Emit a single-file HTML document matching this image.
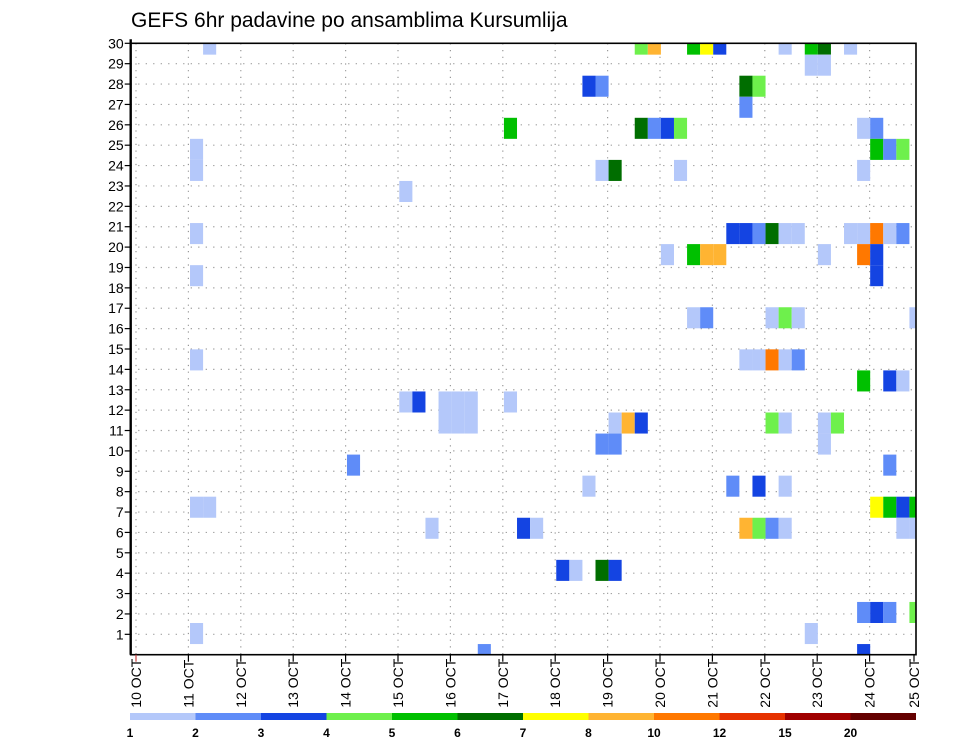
<!DOCTYPE html>
<html><head><meta charset="utf-8"><style>
body{margin:0;background:#fff;}
svg{display:block;font-family:"Liberation Sans",sans-serif;}
</style></head><body>
<svg id="chart" width="960" height="742" viewBox="0 0 960 742">
<text x="131" y="27" font-size="21" fill="#000">GEFS 6hr padavine po ansamblima Kursumlija</text>
<defs><clipPath id="pc"><rect x="130.7" y="43.3" width="785.3" height="611.4"/></clipPath></defs>
<g id="grid"></g>
<g id="cells" clip-path="url(#pc)"></g>
<g id="axes"></g>
<g id="cbar"></g>
</svg>
<script>
// cell data: row index from top (0 = member row 30), 6-hour step from 10 OCT 00Z, precip level
const cellRow = [0,0,0,0,0,0,0,0,0,0, 1,1, 2,2,2,2, 3, 4,4,4,4,4,4,4, 5,5,5,5, 6,6,6,6,6, 7,
 9,9,9,9,9,9,9,9,9,9,9,9, 10,10,10,10,10,10,10, 11,11, 13,13,13,13,13,13, 15,15,15,15,15,15,
 16,16,16, 17,17,17,17,17,17, 18,18,18,18,18,18,18,18,18,18, 19,19,19, 20,20, 21,21,21,21,
 22,22,22,22,22,22, 23,23,23,23,23,23,23,23,23, 25,25,25,25, 27,27,27,27, 28,28, 29,29];
const cellStep = [5,38,39,42,43,44,49,51,52,54, 51,52, 34,35,46,47, 46, 28,38,39,40,41,55,56, 4,56,57,58, 4,35,36,41,55, 20,
 4,45,46,47,48,49,50,54,55,56,57,58, 40,42,43,44,52,55,56, 4,56, 42,43,48,49,50,59, 4,46,47,48,49,50,
 55,57,58, 20,21,23,24,25,28, 23,24,25,36,37,38,48,49,52,53, 35,36,52, 16,57, 34,45,47,49,
 4,5,56,57,58,59, 22,29,30,46,47,48,49,58,59, 32,33,35,36, 55,56,57,59, 4,51, 26,55];
const cellLevel = [1,4,8,5,7,3,1,5,6,1, 1,1, 3,2,6,4, 2, 5,6,2,3,4,1,2, 1,5,2,4, 1,1,6,1,1, 1,
 1,3,3,2,6,1,1,1,1,10,1,2, 1,5,8,8,1,10,3, 1,3, 1,2,1,4,1,1, 1,1,1,10,1,2,
 5,3,1, 1,3,1,1,1,1, 1,1,1,1,8,3,4,1,1,4, 2,2,1, 2,2, 1,2,3,1,
 1,1,7,5,3,5, 1,3,1,8,4,2,1,1,1, 3,1,6,3, 2,3,2,4, 1,1, 2,3];
const levelValues = [1,2,3,4,5,6,7,8,10,12,15,20];
const levelColors = ['#b4c8fa','#5f8cf8','#1444e2','#6ef04c','#00c000','#006e00','#ffff00','#ffb432','#ff7800','#e63200','#a00000','#640000'];
const yLabels = [1,2,3,4,5,6,7,8,9,10,11,12,13,14,15,16,17,18,19,20,21,22,23,24,25,26,27,28,29,30];
const dayLabels = [10,11,12,13,14,15,16,17,18,19,20,21,22,23,24,25];

const NS='http://www.w3.org/2000/svg';
function mk(tag,attrs,parent){const e=document.createElementNS(NS,tag);for(const k in attrs)e.setAttribute(k,attrs[k]);parent.appendChild(e);return e;}
const L=130.7,R=916,T=43.3,B=654.7;
const stepX = j => 137.7 + j*13.08;
const rowY = i => 33.6 + i*21.05;
const labelY = v => T + (30 - v)*20.38;
const dayX = d => d===15 ? 914 : 136 + d*52.4;
const colorFor = v => levelColors[Math.max(0, levelValues.indexOf(v))];

const grid=document.getElementById('grid');
yLabels.forEach(v=>{
  const ln=mk('line',{x1:L,x2:R,y1:labelY(v),y2:labelY(v),stroke:'#999','stroke-width':1.2,'stroke-dasharray':'1.2 6.3'},grid);
  
  
});
dayLabels.forEach((d,k)=>{
  if(k===15) return;
  const ln=mk('line',{x1:dayX(k),x2:dayX(k),y1:T,y2:B,stroke:'#999','stroke-width':1.2,'stroke-dasharray':'1.2 5.5'},grid);
  
  
});

const cells=document.getElementById('cells');
for(let n=0;n<cellRow.length;n++){
  const r=mk('rect',{x:stepX(cellStep[n]),y:rowY(cellRow[n]),width:13.08,height:21.05,fill:colorFor(cellLevel[n])},cells);
  
  
}

const axes=document.getElementById('axes');
const fr=mk('rect',{x:L,y:T,width:R-L,height:B-T,fill:'none',stroke:'#000','stroke-width':1.6},axes);


mk('line',{x1:L,x2:L,y1:T-4,y2:B,stroke:'#000','stroke-width':2.4},axes);
yLabels.forEach(v=>{
  mk('line',{x1:L-6,x2:L,y1:labelY(v),y2:labelY(v),stroke:'#000','stroke-width':1.2},axes);
  const t=mk('text',{x:L-7,y:labelY(v)+5,'text-anchor':'end','font-size':14,fill:'#000'},axes);
  t.textContent=v;
  
  
});
dayLabels.forEach((d,k)=>{
  const x=dayX(k);
  mk('line',{x1:x,x2:x,y1:B,y2:B+7,stroke:k===0?'#c44':'#000','stroke-width':1.2},axes);
  const t=mk('text',{x:0,y:0,'font-size':14,fill:'#000',transform:`translate(${x+5},${B+53}) rotate(-90)`},axes);
  t.textContent=d+' OCT';
  
  
});

const cb=document.getElementById('cbar');
const segW=(916-130)/levelValues.length;
levelValues.forEach((v,k)=>{
  const r=mk('rect',{x:130+k*segW,y:713,width:segW,height:7,fill:levelColors[k]},cb);
  
  
  const t=mk('text',{x:130+k*segW,y:737,'text-anchor':'middle','font-size':12,'font-weight':'bold',fill:'#000'},cb);
  t.textContent=v;
  
  
});
</script>
</body></html>
